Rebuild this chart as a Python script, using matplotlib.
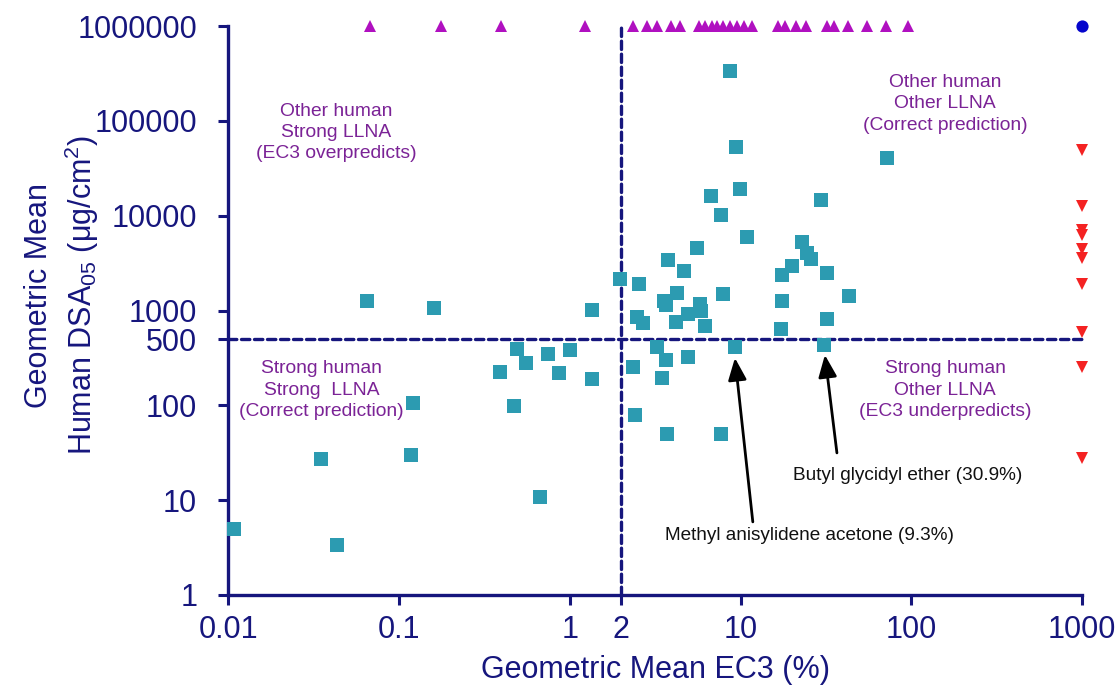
import matplotlib
matplotlib.use("Agg")
import matplotlib.pyplot as plt

plt.rcParams['font.family'] = ['Liberation Sans', 'DejaVu Sans']
plt.rcParams['mathtext.fontset'] = 'custom'
plt.rcParams['mathtext.rm'] = 'Liberation Sans'
plt.rcParams['mathtext.it'] = 'Liberation Sans:italic'
plt.rcParams['mathtext.bf'] = 'Liberation Sans:bold'

# ---- data ----
sq_ec3 = [0.065, 0.16, 1.35, 1.97, 0.49, 0.55, 0.74, 1.0, 0.39, 0.86, 1.35, 0.12, 0.47,
          2.35, 2.41, 0.035, 0.117, 0.67, 0.0108, 0.043,
          8.67, 9.36, 9.92, 6.71, 7.68, 10.9, 71.8, 29.5, 22.8, 24.4, 25.8, 19.9, 17.4,
          32.1, 43.3, 17.6, 32.1, 17.2,
          5.53, 3.76, 4.68, 2.54, 4.22, 3.57, 3.66, 7.86, 5.78, 5.86, 4.94, 4.20, 2.46,
          2.69, 6.21,
          3.22, 3.66, 4.94, 9.3, 30.9, 3.46, 3.72, 7.71]
sq_dsa = [1272, 1073, 1015, 2154, 391, 278, 346, 384, 225, 221, 191, 105, 98.6,
          256, 79.2, 27.0, 30.0, 10.9, 4.93, 3.37,
          337000, 52800, 19310, 16300, 10200, 5976, 41020, 14570, 5254, 4022, 3476, 2975, 2374,
          2474, 1426, 1272, 815, 635,
          4541, 3418, 2598, 1922, 1545, 1272, 1146, 1486, 1166, 998, 914, 764, 862,
          735, 693,
          410, 301, 326, 410, 437, 193, 49.6, 49.9]

NO_HUMAN = 1000000      # placeholder value: no human DSA05
NO_LLNA = 1000          # placeholder value: LLNA negative / no EC3

top_ec3 = [0.0675, 0.176, 0.395, 1.23, 2.34, 2.83, 3.24, 3.91, 4.42, 5.71, 6.18, 6.80,
           7.27, 7.89, 8.67, 9.53, 10.5, 11.7, 16.6, 18.2, 21.1, 24.2, 32.1, 35.3,
           42.6, 55.0, 71.1, 95.7]
right_dsa = [49430, 12690, 7085, 6273, 4466, 3588, 1908, 595, 254, 27.9]

EC3_CUT = 2
DSA_CUT = 500

x_ticks = [0.01, 0.1, 1, 2, 10, 100, 1000]
x_ticklabels = ['0.01', '0.1', '1', '2', '10', '100', '1000']
y_ticks = [1, 10, 100, 500, 1000, 10000, 100000, 1000000]
y_ticklabels = ['1', '10', '100', '500', '1000', '10000', '100000', '1000000']

NAVY = '#16167D'
TEAL = '#2C9BB1'
MAGENTA = '#B010C0'
RED = '#F42222'
BLUE = '#0505CC'
PURPLE = '#7B2396'

fig = plt.figure(figsize=(11.2, 6.86), dpi=100)
ax = fig.add_axes([0.204, 0.1327, 0.762, 0.8293])
ax.set_xscale('log')
ax.set_yscale('log')
ax.set_xlim(0.01, 1000)
ax.set_ylim(1, 1000000)

# quadrant dashed lines
dash_kw = dict(color=NAVY, lw=2.4, dashes=(2.5, 1.4), dash_capstyle='round', zorder=1, clip_on=False)
ax.plot([0.01, 1000], [DSA_CUT, DSA_CUT], **dash_kw)
ax.plot([EC3_CUT, EC3_CUT], [1, 1000000], **dash_kw)

ax.plot(sq_ec3, sq_dsa, linestyle='none', marker='s', ms=9.8, mew=0,
        color=TEAL, zorder=3, clip_on=False)
ax.plot(top_ec3, [NO_HUMAN] * len(top_ec3), linestyle='none', marker='^', ms=8.2, mew=0,
        color=MAGENTA, zorder=3, clip_on=False)
ax.plot([NO_LLNA] * len(right_dsa), right_dsa, linestyle='none', marker='v', ms=8.0, mew=0,
        color=RED, zorder=3, clip_on=False)
ax.plot([NO_LLNA], [NO_HUMAN], linestyle='none', marker='o', ms=8.8, mew=0,
        color=BLUE, zorder=3, clip_on=False)

# axes styling
for s in ['top', 'right']:
    ax.spines[s].set_visible(False)
for s in ['left', 'bottom']:
    ax.spines[s].set_color(NAVY)
    ax.spines[s].set_linewidth(2.4)
ax.minorticks_off()
ax.set_xticks(x_ticks)
ax.set_xticklabels(x_ticklabels)
ax.set_yticks(y_ticks)
ax.set_yticklabels(y_ticklabels)
ax.tick_params(axis='both', which='major', direction='out', length=7.5, width=2.2,
               color=NAVY, labelcolor=NAVY, labelsize=22)
ax.tick_params(axis='x', pad=7)
ax.tick_params(axis='y', pad=15)
ax.tick_params(which='minor', length=0)

ax.set_xlabel('Geometric Mean EC3 (%)', fontsize=22, color=NAVY, labelpad=7)
ax.set_ylabel('Geometric Mean\nHuman DSA$_\\mathregular{05}$ (\u03bcg/cm$^\\mathregular{2}$)',
              fontsize=22, color=NAVY, linespacing=1.3, va='center', ha='center')
ax.yaxis.set_label_coords(-0.195, 0.527)

# quadrant texts
qkw = dict(fontsize=13.9, color=PURPLE, ha='center', va='center', linespacing=1.33, zorder=4)
ax.text(0.0427, 75300, 'Other human\nStrong LLNA\n(EC3 overpredicts)', **qkw)
ax.text(157.6, 151000, 'Other human\nOther LLNA\n(Correct prediction)', **qkw)
ax.text(0.0352, 145, 'Strong human\nStrong  LLNA\n(Correct prediction)', **qkw)
ax.text(157.6, 145, 'Strong human\nOther LLNA\n(EC3 underpredicts)', **qkw)

# annotations
akw = dict(arrowstyle='-|>,head_length=0.48,head_width=0.2', color='black', lw=2.0,
           mutation_scale=28, shrinkA=0, shrinkB=0)
ax.annotate('', xy=(9.27, 316), xytext=(11.8, 5.9), arrowprops=akw, zorder=5)
ax.annotate('', xy=(31.2, 340), xytext=(36.7, 31.5), arrowprops=akw, zorder=5)
ax.text(25.2, 4.19, 'Methyl anisylidene acetone (9.3%)', fontsize=13.7, color='#111111',
        ha='center', va='center')
ax.text(95.7, 18.4, 'Butyl glycidyl ether (30.9%)', fontsize=13.7, color='#111111',
        ha='center', va='center')

fig.savefig('out.png', dpi=100, facecolor='white')
